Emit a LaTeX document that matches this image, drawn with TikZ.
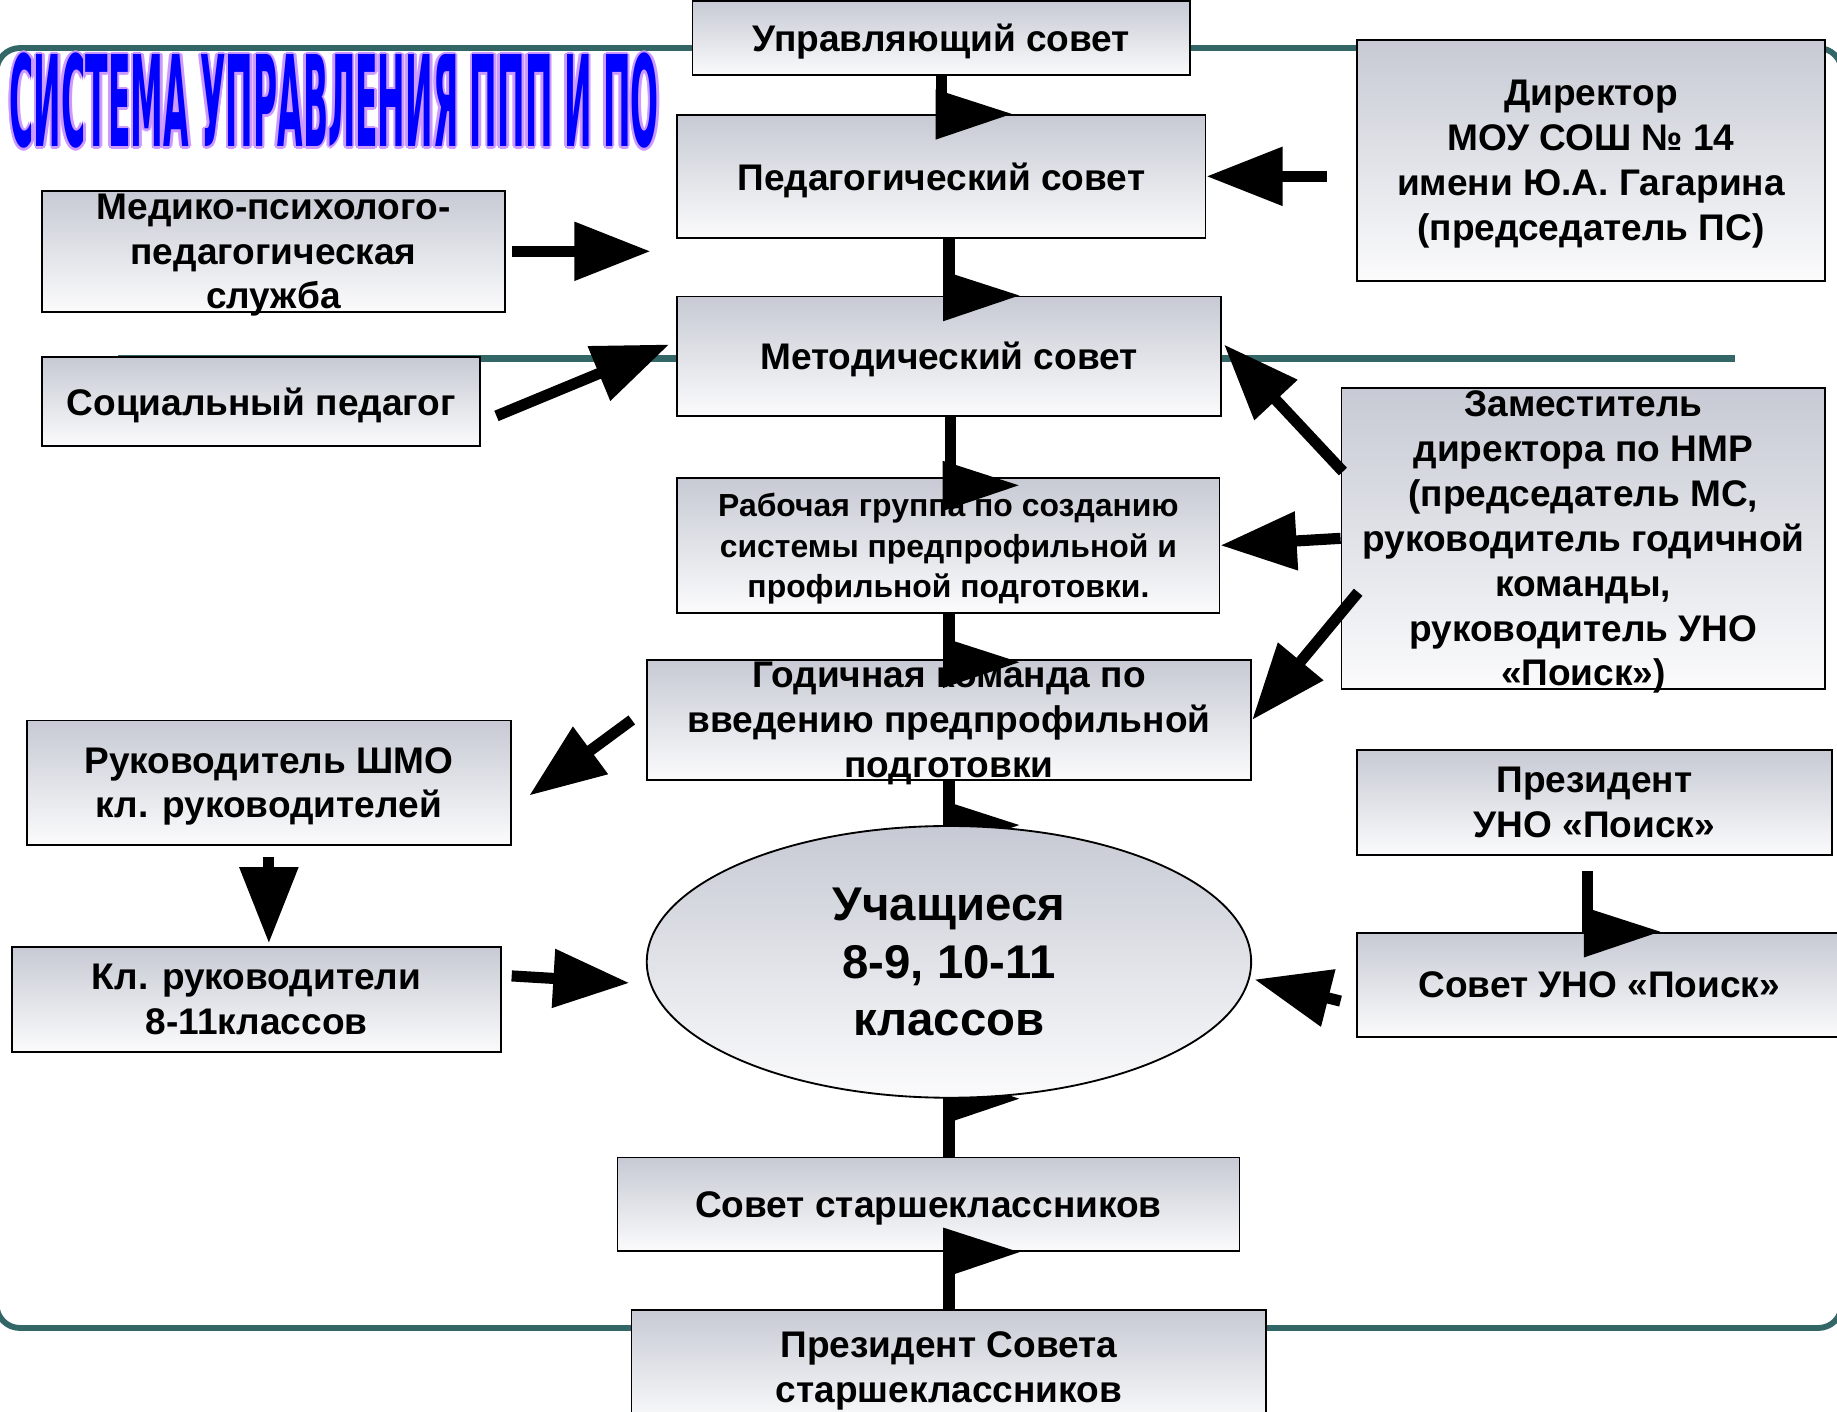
\documentclass[tikz,border=0pt]{standalone}
\usepackage{graphicx}
\usepackage{fontspec}
\setmainfont{Liberation Sans}
\newfontfamily\titlefont{DejaVu Sans}
\usetikzlibrary{arrows.meta,calc,shapes.geometric}

\pgfdeclarelayer{background}
\pgfsetlayers{background,main}

\definecolor{frameteal}{RGB}{51,102,102}
\definecolor{boxtop}{RGB}{199,202,212}
\definecolor{boxbot}{RGB}{251,251,252}
\definecolor{titleblue}{RGB}{0,0,255}
\definecolor{titleedge}{RGB}{204,153,255}

\newcommand{\titletext}{\resizebox{11.08cm}{1.6cm}{\titlefont\bfseries СИСТЕМА УПРАВЛЕНИЯ ППП И ПО}}
\newcommand{\flagat}[1]{\fill (#1) ++(-5,-21) -- ++(65,21) -- ++(-65,22) -- cycle;}

\tikzset{
  box/.style={draw=black, line width=0.9pt, top color=boxtop, bottom color=boxbot,
    align=center, inner xsep=0pt, inner ysep=-0.2cm, text depth=0pt,
    font=\fontsize{18pt}{21.8pt}\selectfont\bfseries},
  oval/.style={box, ellipse, inner sep=0pt, font=\fontsize{23pt}{28pt}\selectfont\bfseries},
  arr/.style={line width=0.19cm, -{Triangle[length=1.3cm,width=0.96cm]}},
  shaft/.style={line width=0.19cm},
  frame/.style={draw=frameteal, line width=0.1cm},
}

\begin{document}
\begin{tikzpicture}[x=0.02cm, y=-0.02cm]
    \useasboundingbox (0,0) rectangle (1568,1205);

    % title
    \foreach \ang in {0,45,...,315}
        \node[anchor=north west, inner sep=0pt, text=titleedge] at ($(8,45)+(\ang:2.2)$) {\titletext};
    \node[anchor=north west, inner sep=0pt, text=titleblue] (title) at (8,45) {\titletext};

    % boxes
    \node[box, minimum width=8.5cm, minimum height=1.26cm] (upr) at (803.5,32.5) {Управляющий совет};
    \node[box, minimum width=9.02cm, minimum height=2.1cm] (ped) at (803.5,150.5) {Педагогический совет};
    \node[box, minimum width=8cm, minimum height=4.12cm] (dir) at (1358,137) {Директор\\МОУ СОШ № 14\\имени Ю.А. Гагарина\\(председатель ПС)};
    \node[box, minimum width=7.9cm, minimum height=2.06cm] (med) at (233.5,214.5) {Медико-психолого-\\педагогическая\\служба};
    \node[box, minimum width=7.48cm, minimum height=1.52cm] (soc) at (223,343) {Социальный педагог};
    \node[box, minimum width=9.28cm, minimum height=2.04cm] (met) at (810,304) {Методический совет};
    \node[box, minimum width=8.26cm, minimum height=5.14cm] (zam) at (1351.5,459.5) {Заместитель\\директора по НМР\\(председатель МС,\\руководитель годичной\\команды,\\руководитель УНО\\«Поиск»)};
    \node[box, minimum width=9.26cm, minimum height=2.3cm, font=\fontsize{15.5pt}{19.6pt}\selectfont\bfseries] (rab) at (809.5,465.5) {Рабочая группа по созданию\\системы предпрофильной и\\профильной подготовки.};
    \node[box, minimum width=10.32cm, minimum height=2.06cm] (god) at (810,614.5) {Годичная команда по\\введению предпрофильной\\подготовки};
    \node[box, minimum width=8.26cm, minimum height=2.12cm] (shmo) at (229.5,668) {Руководитель ШМО\\кл. руководителей};
    \node[box, minimum width=8.36cm, minimum height=1.8cm] (klr) at (219,853) {Кл. руководители\\8-11классов};
    \node[box, minimum width=8.12cm, minimum height=1.8cm] (presuno) at (1361,685) {Президент\\УНО «Поиск»};
    \node[box, minimum width=8.28cm, minimum height=1.78cm] (sovuno) at (1365,840.5) {Совет УНО «Поиск»};
    \node[oval, minimum width=10.32cm, minimum height=4.64cm] (ell) at (810,821) {Учащиеся\\8-9, 10-11\\классов};
    \node[box, minimum width=10.62cm, minimum height=1.6cm] (sst) at (792.5,1028) {Совет старшеклассников};
    \node[box, minimum width=10.84cm, minimum height=1.94cm] (pres) at (810,1166.5) {Президент Совета\\старшеклассников};

    % frame and lines behind
    \begin{pgfonlayer}{background}
        \draw[frame, rounded corners=0.4cm] (-3,41) rectangle (1572,1133.5);
        \draw[frameteal, line width=0.12cm] (101,306) -- (1481,306);
        \draw[shaft] (ell.north |- god.south) -- (ell.north);
        \flagat{ell.north}
        \draw[shaft] (ell.south) -- (ell.south |- sst.north);
        \flagat{ell.south}
    \end{pgfonlayer}

    % vertical links
    \draw[shaft] (upr.south) -- (ped.north);
    \flagat{ped.north}
    \draw[shaft] (met.north |- ped.south) -- (met.north);
    \flagat{met.north}
    \draw[shaft] ($(rab.north |- met.south)+(2,0)$) -- ($(rab.north)+(2,0)$);
    \flagat{$(rab.north)+(0,7)$}
    \draw[shaft] (god.north |- rab.south) -- (god.north);
    \flagat{$(god.north)+(0,3)$}
    \draw[shaft] (pres.north) -- (pres.north |- sst.south);
    \flagat{pres.north |- sst.south}
    \draw[shaft] ($(presuno.south)+(-6,13)$) -- ($(sovuno.north)+(-10,0)$);
    \flagat{$(sovuno.north)+(-8,0)$}

    % arrows
    \draw[arr, shorten <=0.5cm] (dir.west |- ped.east) -- (ped.east);
    \draw[arr, shorten <=0.1cm, shorten >=0.44cm] (med.east) -- (med.east -| ped.west);
    \draw[arr] ($(soc.east)+(13,12)$) -- ($(met.west)+(-6,-10)$);
    \draw[arr] ($(zam.west)+(2,-57)$) -- ($(met.east)+(2,-10)$);
    \draw[arr] (zam.west) -- (rab.east);
    \draw[arr] ($(zam.west)+(15,46)$) -- (god.east);
    \draw[arr] ($(god.west)+(-12,0)$) -- ($(shmo.east)+(15,11)$);
    \draw[arr, shorten <=0.2cm, shorten >=0.04cm] (shmo.south) -- (shmo.south |- klr.north);
    \draw[arr] ($(klr.east)+(8,-20)$) -- ($(ell.west)+(-14,18)$);
    \draw[arr] ($(sovuno.west)+(-13,14)$) -- ($(ell.east)+(2,15)$);
\end{tikzpicture}
\end{document}
